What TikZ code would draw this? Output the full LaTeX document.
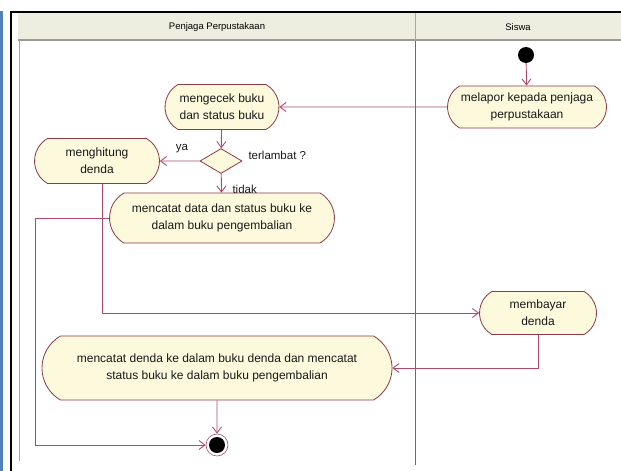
\documentclass[tikz,border=0pt]{standalone}
\usepackage{fontspec}
\setmainfont{Liberation Sans}
\usetikzlibrary{shapes.misc,shapes.geometric,arrows.meta}
\definecolor{rahmen}{HTML}{4F81BD}
\definecolor{kopf}{HTML}{EDEDE0}
\definecolor{aktfill}{HTML}{FCF9DC}
\definecolor{aktrand}{HTML}{8C3A48}
\definecolor{linie}{HTML}{B0486E}
\begin{document}
\begin{tikzpicture}[x=1pt, y=-1pt, font=\fontsize{12}{17}\selectfont,
	akt/.style={rounded rectangle, rounded rectangle arc length=120, draw=aktrand, fill=aktfill, line width=0.8pt, align=center, inner sep=0pt, text=black!90},
	fluss/.style={-{Straight Barb[length=6pt,width=9pt]}, linie, line width=0.9pt},
	lbl/.style={font=\fontsize{11.5}{13}\selectfont, text=black!90}]
	\useasboundingbox (0,0) rectangle (621,471);
	% Rahmen und Bahnen
	\fill[rahmen] (0,11) rectangle (3,471);
	\fill[kopf] (18,13) rectangle (621,40);
	\draw[line width=2pt] (11,471) -- (11,12) -- (621,12);
	\draw[black!40, line width=1.5pt] (18,40) -- (621,40);
	\draw[black!35] (19,40) -- (19,461);
	\draw[black!35] (415,13) -- (415,40);
	\draw[linie] (415,41) -- (415,465);
	\node[font=\fontsize{9.5}{10}\selectfont] (bahnA) at (217,27) {Penjaga Perpustakaan};
	\node[font=\fontsize{9.5}{10}\selectfont] (bahnB) at (518,27) {Siswa};

	% Aktivitaeten
	\node[circle, fill=black, minimum size=16, inner sep=0pt] (start) at (526,55) {};
	\node[akt, minimum width=159, minimum height=42] (melapor) at (527,107) {melapor kepada penjaga\\perpustakaan};
	\node[akt, minimum width=114, minimum height=45] (mengecek) at (222,107) {mengecek buku\\dan status buku};
	\node[diamond, aspect=1.7, draw=aktrand, fill=aktfill, line width=0.8pt, minimum width=42, minimum height=25, inner sep=0pt] (cek) at (221,161) {};
	\node[akt, minimum width=125, minimum height=45] (hitung) at (97,161) {menghitung\\denda};
	\node[akt, minimum width=225, minimum height=50] (data) at (222,218) {mencatat data dan status buku ke\\dalam buku pengembalian};
	\node[akt, minimum width=117, minimum height=43] (bayar) at (538,313) {membayar\\denda};
	\node[akt, minimum width=350, minimum height=64] (denda) at (217,368) {mencatat denda ke dalam buku denda dan mencatat\\status buku ke dalam buku pengembalian};
	\node[circle, draw=linie, line width=0.6pt, minimum size=22, inner sep=0pt] (ende) at (217,445) {};
	\fill (ende) circle (8);
	\coordinate (knick) at (35,445);

	% Beschriftungen
	\node[lbl, anchor=west] (frage) at (245,155) {terlambat ?};
	\node[lbl] (ya) at (182,149) {ya};
	\node[lbl, anchor=west] (tidak) at (229,189) {tidak};

	% Fluesse
	\draw[fluss] (start) -- (melapor);
	\draw[fluss] (melapor) -- (mengecek);
	\draw[fluss] (mengecek) -- (cek);
	\draw[fluss] (cek) -- (hitung);
	\draw[fluss] (cek) -- (data);
	\draw[fluss] ([xshift=5pt]hitung.south) |- (bayar);
	\draw[fluss] (data.west) -| (knick) -- (ende);
	\draw[fluss] (bayar) |- (denda);
	\draw[fluss] (denda) -- (ende);
\end{tikzpicture}
\end{document}
